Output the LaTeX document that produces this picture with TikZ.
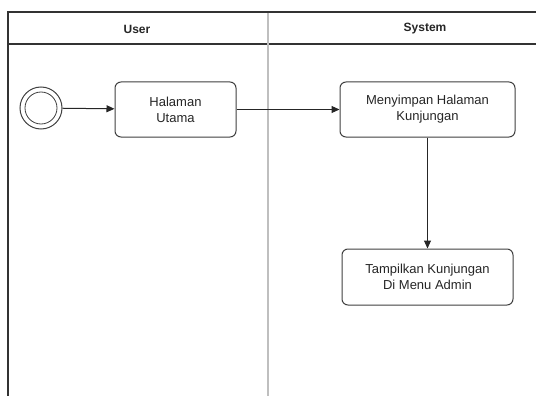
\documentclass[tikz,border=0pt]{standalone}
\usepackage{fontspec}
\setmainfont{Liberation Sans}
\usetikzlibrary{arrows.meta}
\begin{document}
\begin{tikzpicture}[x=1pt,y=-1pt,
  lane/.style={line width=1.4pt, draw=black!80},
  divider/.style={line width=1.6pt, draw=black!25},
  action/.style={draw=black!75, line width=1pt, rounded corners=6pt, fill=white,
    align=center, inner sep=0pt, text=black!85, font=\fontsize{13}{16}\selectfont},
  flow/.style={draw=black!85, line width=1pt, -{Triangle[length=8pt,width=7pt]}},
  header/.style={font=\bfseries\fontsize{12}{14}\selectfont, text=black!85}
]
\useasboundingbox (0,0) rectangle (536,396);
% swimlane frame
\draw[lane] (8,396) -- (8,12) -- (536,12);
\draw[lane] (8,44) -- (536,44);
\draw[divider] (268,13) -- (268,396);
\node[header] (hUser) at (137,29) {User};
\node[header] (hSystem) at (425,29) {System};
% start event
\node[circle, draw=black!75, line width=1pt, minimum size=42pt, inner sep=0pt] (start) at (41,108) {};
\node[circle, draw=black!75, line width=0.8pt, minimum size=32pt, inner sep=0pt] (startIn) at (41,108) {};
% actions
\node[action, minimum width=121pt, minimum height=55pt] (utama) at (175.5,109.5) {Halaman\\Utama};
\node[action, minimum width=175pt, minimum height=55pt] (simpan) at (427.5,109.5) {Menyimpan Halaman\\Kunjungan};
\node[action, minimum width=171pt, minimum height=56pt] (tampil) at (427.5,277) {Tampilkan Kunjungan\\Di Menu Admin};
% flows
\draw[flow] (start) -- (utama);
\draw[flow] (utama) -- (simpan);
\draw[flow] (simpan) -- (tampil);
\end{tikzpicture}
\end{document}
